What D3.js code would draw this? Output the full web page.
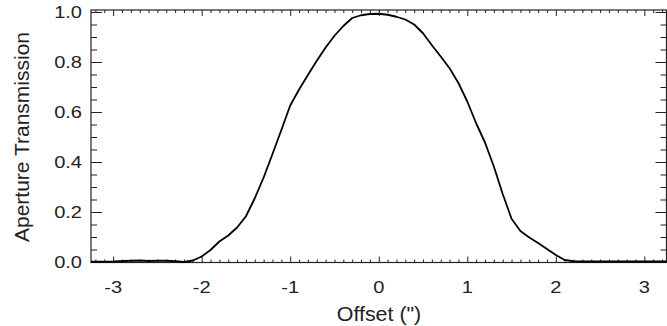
<!DOCTYPE html>
<html>
<head>
<meta charset="utf-8">
<script src="https://cdn.jsdelivr.net/npm/d3@7"></script>
<style>
  html, body { margin: 0; padding: 0; background: #fff; }
  svg { display: block; }
  text { font-family: "Liberation Sans", Arial, Helvetica, sans-serif; fill: #222; }
</style>
</head>
<body>
<svg id="chart" width="667" height="326"></svg>
<script>
// Aperture transmission profile versus offset (arcsec)
const offsets = [-3.25, -3.0, -2.8, -2.7, -2.6, -2.5, -2.4, -2.3, -2.2, -2.1,
  -2.0, -1.9, -1.8, -1.7, -1.6, -1.5, -1.4, -1.3, -1.2, -1.1,
  -1.0, -0.9, -0.8, -0.7, -0.6, -0.5, -0.4, -0.3, -0.2, -0.1,
  0.0, 0.1, 0.2, 0.3, 0.4, 0.5, 0.6, 0.7, 0.8, 0.9,
  1.0, 1.1, 1.2, 1.3, 1.4, 1.5, 1.6, 1.7, 1.8, 1.9,
  2.0, 2.1, 2.2, 2.5, 3.0, 3.25];
const transmission = [0.001, 0.002, 0.005, 0.006, 0.004, 0.005, 0.005, 0.003, 0.000, 0.006,
  0.022, 0.048, 0.082, 0.106, 0.138, 0.183, 0.255, 0.338, 0.432, 0.528,
  0.626, 0.690, 0.748, 0.805, 0.858, 0.905, 0.944, 0.976, 0.987, 0.992,
  0.993, 0.989, 0.981, 0.970, 0.950, 0.915, 0.867, 0.822, 0.775, 0.716,
  0.642, 0.555, 0.478, 0.382, 0.272, 0.173, 0.124, 0.098, 0.076, 0.052,
  0.028, 0.008, 0.003, 0.002, 0.002, 0.002];

const xMajor = [-3, -2, -1, 0, 1, 2, 3];
const yMajor = [0.0, 0.2, 0.4, 0.6, 0.8, 1.0];
const xLabels = ["-3", "-2", "-1", "0", "1", "2", "3"];
const yLabels = ["0.0", "0.2", "0.4", "0.6", "0.8", "1.0"];

const xTitle = "Offset (\")";
const yTitle = "Aperture Transmission";

const plotLeft = 91, plotRight = 666.5, plotTop = 10, plotBottom = 262.5;

const svg = d3.select("#chart");
const x = d3.scaleLinear().domain([-3.25, 3.25]).range([plotLeft, plotRight]);
const y = d3.scaleLinear().domain([-0.002, 1.008]).range([plotBottom, plotTop]);

const xMinor = d3.range(-32, 33).map(d => d / 10).filter(v => xMajor.indexOf(Math.round(v * 10) / 10) < 0);
const yMinor = d3.range(0, 21).map(d => d / 20).filter(v => yMajor.every(m => Math.abs(m - v) > 1e-6));

const axisColor = "#222";
const xMajLen = 6, xMinLen = 3, yMajLen = 11, yMinLen = 6;

function drawTicks(scale, orient, transform, majors, minors, majLen, minLen) {
  const mk = orient === "bottom" ? d3.axisBottom : orient === "top" ? d3.axisTop :
             orient === "left" ? d3.axisLeft : d3.axisRight;
  [[minors, minLen], [majors, majLen]].forEach(([vals, len]) => {
    svg.append("g").attr("transform", transform)
      .call(mk(scale).tickValues(vals).tickSize(-len).tickSizeOuter(0).tickFormat(""))
      .call(g => g.select(".domain").remove())
      .call(g => g.selectAll("line").attr("stroke", axisColor));
  });
}

drawTicks(x, "bottom", `translate(0,${plotBottom})`, xMajor, xMinor, xMajLen, xMinLen);
drawTicks(x, "top", `translate(0,${plotTop})`, xMajor, xMinor, xMajLen, xMinLen);
drawTicks(y, "left", `translate(${plotLeft},0)`, yMajor, yMinor, yMajLen, yMinLen);
drawTicks(y, "right", `translate(${plotRight},0)`, yMajor, yMinor, yMajLen, yMinLen);

// tick labels (wide Helvetica-style lettering)
const labelSize = 17, labelStretch = 1.18;
svg.append("g").selectAll("text")
  .data(xMajor)
  .join("text")
  .attr("transform", d => `translate(${x(d)},293) scale(${labelStretch},1)`)
  .attr("text-anchor", "middle")
  .attr("font-size", labelSize)
  .text((d, i) => xLabels[i]);

svg.append("g").selectAll("text")
  .data(yMajor)
  .join("text")
  .attr("transform", d => `translate(82,${y(d)}) scale(${labelStretch},1)`)
  .attr("text-anchor", "end")
  .attr("dy", "0.36em")
  .attr("font-size", labelSize)
  .text((d, i) => yLabels[i]);

// plot frame
svg.append("rect")
  .attr("x", plotLeft).attr("y", plotTop)
  .attr("width", plotRight - plotLeft).attr("height", plotBottom - plotTop)
  .attr("fill", "none").attr("stroke", axisColor).attr("stroke-width", 1.2);

// transmission curve
const line = d3.line().x((d, i) => x(offsets[i])).y(d => y(d));
svg.append("path")
  .datum(transmission)
  .attr("d", line)
  .attr("fill", "none")
  .attr("stroke", "#000")
  .attr("stroke-width", 1.8)
  .attr("stroke-linejoin", "round");

// axis titles
svg.append("text")
  .attr("transform", "translate(379,321) scale(1.07,1)")
  .attr("text-anchor", "middle")
  .attr("font-size", 20)
  .text(xTitle);

svg.append("text")
  .attr("transform", "translate(28.5,137) rotate(-90)")
  .attr("text-anchor", "middle")
  .attr("font-size", 21)
  .text(yTitle);
</script>
</body>
</html>
